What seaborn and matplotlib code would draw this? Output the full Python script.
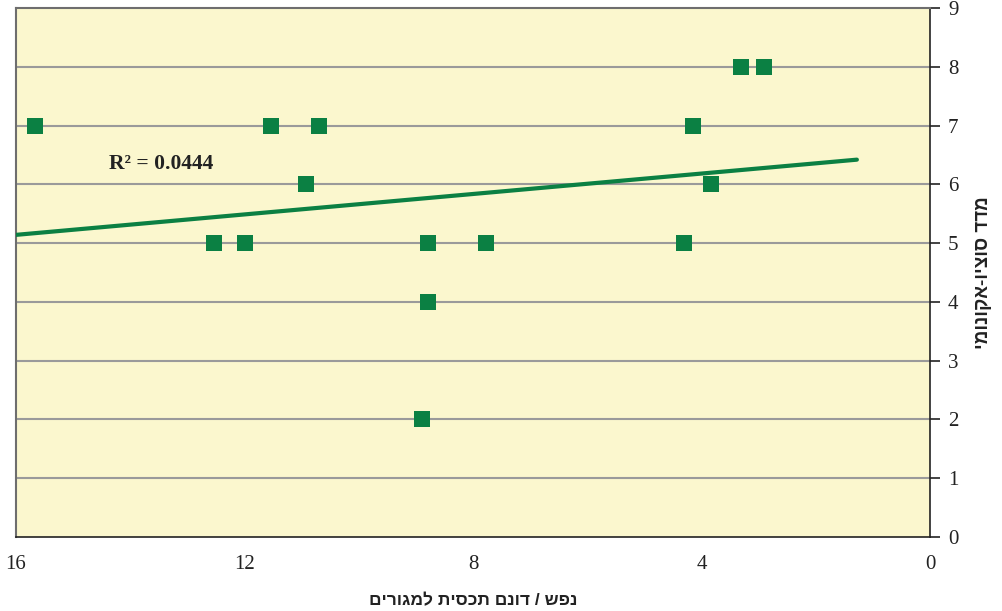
import numpy as np
import pandas as pd
import matplotlib
matplotlib.use("Agg")
import matplotlib.pyplot as plt
import seaborn as sns

# Data
density = [15.67, 12.54, 12.0, 11.54, 10.93, 10.70, 8.79, 8.79, 8.90, 7.78, 4.31, 4.15, 3.84, 3.31, 2.91]
ses_index = [7, 5, 5, 7, 6, 7, 5, 4, 2, 5, 5, 7, 6, 8, 8]
trend_range = [16.0, 1.28]
x_ticks = [16, 12, 8, 4, 0]
y_ticks = [0, 1, 2, 3, 4, 5, 6, 7, 8, 9]
x_label = "נפש / דונם תכסית למגורים"
y_label = "מדד סוציו-אקונומי"
r2_label = "R² = 0.0444"

sns.set_style("white")
plt.rcParams['font.family'] = ['Liberation Serif', 'DejaVu Serif', 'DejaVu Sans']

green = "#0B8043"
df = pd.DataFrame({"x": density, "y": ses_index})

fig = plt.figure(figsize=(10.02, 6.11), dpi=100)
ax = fig.add_axes([16 / 1002, (611 - 537) / 611, 914 / 1002, 529 / 611])
ax.set_facecolor("#FBF7CE")

# grid lines
for yv in y_ticks[1:-1]:
    ax.axhline(yv, color="#9A9A9A", lw=1.5, zorder=1)

# trend line (least squares fit)
slope, intercept = np.polyfit(density, ses_index, 1)
tx = np.array(trend_range)
tdf = pd.DataFrame({"x": tx, "y": slope * tx + intercept})
sns.lineplot(data=tdf, x="x", y="y", color=green, lw=3, ax=ax, zorder=3)

sns.scatterplot(data=df, x="x", y="y", marker="s", s=120, color=green,
                edgecolor=green, linewidth=0, ax=ax, zorder=4)

ax.set_xlim(16, 0)
ax.set_ylim(0, 9)
ax.set_xticks(x_ticks)
ax.set_yticks(y_ticks)
ax.yaxis.tick_right()
ax.yaxis.set_label_position("right")
ax.tick_params(axis="both", direction="out", length=7, width=1.2, color="#222222",
               labelsize=15, labelcolor="#222222")
ax.tick_params(axis="x", pad=6)
ax.tick_params(axis="y", pad=6, left=False, right=True)

for side in ["top", "left"]:
    ax.spines[side].set_color("#6E6E6E")
    ax.spines[side].set_linewidth(1.5)
for side in ["bottom", "right"]:
    ax.spines[side].set_color("#222222")
    ax.spines[side].set_linewidth(1.2)

# matplotlib lays glyphs out left-to-right; reverse Hebrew so it reads right-to-left
ax.set_xlabel(x_label[::-1], fontsize=12.5, fontweight="bold", color="#222222",
              labelpad=14, family=["Liberation Sans", "DejaVu Sans"])
ax.set_ylabel(y_label[::-1], fontsize=13.5, fontweight="bold", color="#222222",
              rotation=90, labelpad=12, family=["Liberation Sans", "DejaVu Sans"])

ax.text(0.102, 0.705, r2_label, transform=ax.transAxes, fontsize=15.5,
        fontweight="bold", color="#222222", va="center", ha="left")

fig.savefig("out.png", dpi=100)
